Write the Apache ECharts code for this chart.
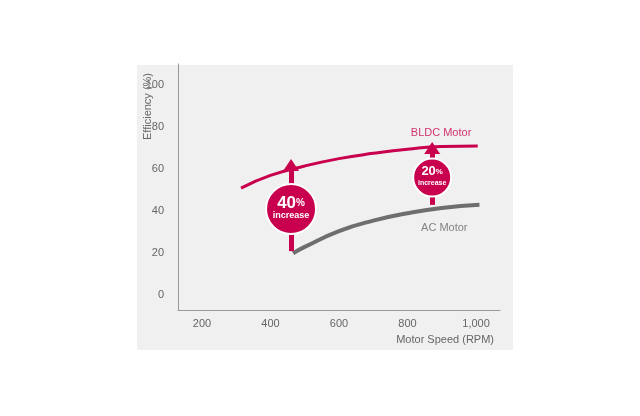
<!DOCTYPE html>
<html>
<head>
<meta charset="UTF-8">
<script src="https://cdn.jsdelivr.net/npm/echarts@6/dist/echarts.min.js"></script>
<style>body{margin:0;background:#fff}#main{width:640px;height:416px}</style>
</head>
<body>
<div id="main"></div>
<script>
// data
var bldcRpm = [314, 400, 500, 600, 700, 800, 900, 1005];
var bldcEff = [51, 57, 61.5, 65, 67.5, 69.5, 70.8, 71];
var acRpm = [466, 500, 600, 700, 800, 900, 1010];
var acEff = [20, 23, 30.5, 35.5, 39, 41.5, 43];
var yTicks = [0, 20, 40, 60, 80, 100];
var xTicks = [200, 400, 600, 800, 1000];
var gains = [
    {rpm: 460, from: 21, to: 62, mid: 41, pct: '40', size: 50},
    {rpm: 872, from: 43, to: 70, mid: 56, pct: '20', size: 38}
];

function pairs(xs, ys) { return xs.map(function (x, i) { return [x, ys[i]]; }); }

var myChart = echarts.init(document.getElementById('main'));
var red = '#c8004d';
var markLines = [], markPoints = [];
gains.forEach(function (g) {
    markLines.push([{coord: [g.rpm, g.from]}, {coord: [g.rpm, g.to]}]);
    markPoints.push({coord: [g.rpm, g.mid], symbolSize: g.size,
        label: {formatter: '{a|' + g.pct + '}{b|%}\n{c|increase}',
            rich: {a: {fontSize: g.size > 40 ? 17 : 13, fontWeight: 'bold', color: '#fff'},
                   b: {fontSize: g.size > 40 ? 10 : 8, fontWeight: 'bold', color: '#fff'},
                   c: {fontSize: g.size > 40 ? 9 : 7, fontWeight: 'bold', color: '#fff'}}}});
});

myChart.setOption({
    animation: false,
    graphic: [
        {type: 'rect', shape: {x: 137, y: 65, width: 376, height: 285}, style: {fill: '#f0f0f0'}, z: -10},
        {type: 'text', right: 146, top: 334, style: {text: 'Motor Speed (RPM)', fill: '#666', fontSize: 11}},
        {type: 'text', x: 142, y: 140, rotation: Math.PI / 2, style: {text: 'Efficiency (%)', fill: '#666', fontSize: 11}}
    ],
    grid: {left: 178, right: 140, top: 64, bottom: 106},
    xAxis: {
        type: 'value', min: 130, max: 1070,
        axisLine: {onZero: false, lineStyle: {color: '#999'}},
        axisTick: {show: false}, splitLine: {show: false},
        axisLabel: {customValues: xTicks, color: '#666', fontSize: 11, margin: 8,
            formatter: function (v) { return v >= 1000 ? '1,000' : v; }}
    },
    yAxis: {
        type: 'value', min: -7, max: 110,
        axisLine: {show: true, lineStyle: {color: '#999'}},
        axisTick: {show: false}, splitLine: {show: false},
        axisLabel: {customValues: yTicks, color: '#666', fontSize: 11, margin: 14}
    },
    series: [{
        type: 'line', smooth: true, symbol: 'none', data: pairs(acRpm, acEff),
        lineStyle: {color: '#6e6e6e', width: 4}
    }, {
        type: 'line', smooth: true, symbol: 'none', data: pairs(bldcRpm, bldcEff),
        lineStyle: {color: red, width: 3},
        markLine: {silent: true, symbol: ['none', 'triangle'], symbolSize: [16, 12], label: {show: false},
            lineStyle: {color: red, width: 5, type: 'solid'}, data: markLines},
        markPoint: {symbol: 'circle', itemStyle: {color: red, borderColor: '#fff', borderWidth: 2},
            label: {show: true, lineHeight: 12}, data: markPoints}
    }, {
        type: 'scatter', symbolSize: 0, silent: true,
        label: {show: true, position: 'right', fontSize: 11,
            formatter: function (p) { return p.dataIndex === 0 ? 'BLDC Motor' : 'AC Motor'; }},
        data: [
            {value: [795, 77], label: {color: red}},
            {value: [825, 32], label: {color: '#666'}}
        ]
    }]
});
</script>
</body>
</html>
